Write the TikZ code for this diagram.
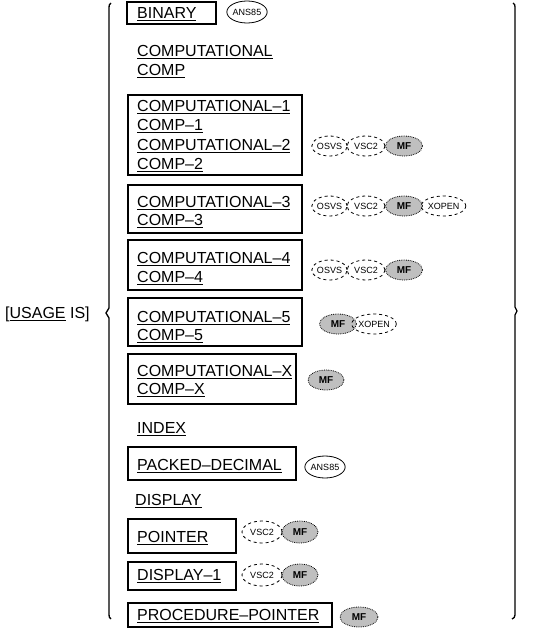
\documentclass[tikz,border=0pt]{standalone}
\usepackage{fontspec}
\setmainfont{Liberation Sans}
\usetikzlibrary{shapes.geometric}
\newcommand{\ulw}[1]{\setbox0\hbox{#1}\rlap{\rule[-3.2pt]{\wd0}{1.1pt}}\box0\relax}
\begin{document}
\begin{tikzpicture}[x=1pt,y=-1pt,
  word/.style={anchor=base west, inner sep=0pt, font=\fontsize{16}{19}\selectfont},
  boxline/.style={draw, line width=1.4pt},
  brace/.style={draw, line width=1.3pt},
  tag/.style={ellipse, draw, dashed, line width=0.8pt, minimum width=36pt, minimum height=20pt, inner sep=0pt, font=\fontsize{9}{10}\selectfont},
  soltag/.style={tag, solid},
  mftag/.style={ellipse, draw, densely dotted, line width=0.8pt, fill=black!25, minimum width=37pt, minimum height=20pt, inner sep=0pt, font=\bfseries\fontsize{10}{11}\selectfont}]
\useasboundingbox[fill=white] (0,0) rectangle (543,629);

% braces
\draw[brace] (111,3) to[out=200,in=90] (109,8) -- (109,308) -- (106,313) -- (109,318) -- (109,614) to[out=-90,in=160] (111,619);
\draw[brace] (513,3) to[out=-20,in=90] (515,7) -- (515,307) -- (517,311) -- (515,315) -- (515,615) to[out=-90,in=20] (512,619);

% left label
\node[word] (usage) at (5,318) {[\ulw{USAGE} IS]};

% BINARY
\draw[boxline] (127,2) rectangle (216,24);
\node[word] (binary) at (137,18) {\ulw{BINARY}};
\node[soltag, minimum width=39pt, minimum height=22pt] (a1) at (247,12) {ANS85};

% COMPUTATIONAL
\node[word] (comp) at (137,56) {\ulw{COMPUTATIONAL}};
\node[word] (compa) at (137,75) {\ulw{COMP}};

% box 2
\draw[boxline] (128,95) rectangle (302,175);
\node[word] (c1) at (137,111) {\ulw{COMPUTATIONAL–1}};
\node[word] (c1a) at (137,130) {\ulw{COMP–1}};
\node[word] (c2) at (137,150) {\ulw{COMPUTATIONAL–2}};
\node[word] (c2a) at (137,169) {\ulw{COMP–2}};
\node[tag, minimum width=35pt] (o2) at (329.5,146) {OSVS};
\node[tag, minimum width=38pt] (v2) at (366,146) {VSC2};
\node[mftag] (m2) at (404,146) {MF};

% box 3
\draw[boxline] (128,185) rectangle (302,233);
\node[word] (c3) at (137,207) {\ulw{COMPUTATIONAL–3}};
\node[word] (c3a) at (137,225) {\ulw{COMP–3}};
\node[tag, minimum width=35pt] (o3) at (329.5,206) {OSVS};
\node[tag, minimum width=38pt] (v3) at (366,206) {VSC2};
\node[mftag] (m3) at (404,206) {MF};
\node[tag, minimum width=39pt] (x3) at (443.5,206) {XOPEN};

% box 4
\draw[boxline] (128,240) rectangle (302,290);
\node[word] (c4) at (137,263) {\ulw{COMPUTATIONAL–4}};
\node[word] (c4a) at (137,282) {\ulw{COMP–4}};
\node[tag, minimum width=35pt] (o4) at (329.5,270) {OSVS};
\node[tag, minimum width=38pt] (v4) at (366,270) {VSC2};
\node[mftag] (m4) at (404,270) {MF};

% box 5
\draw[boxline] (128,298) rectangle (302,346);
\node[word] (c5) at (137,322) {\ulw{COMPUTATIONAL–5}};
\node[word] (c5a) at (137,340) {\ulw{COMP–5}};
\node[mftag] (m5) at (338,324) {MF};
\node[tag, minimum width=34pt] (x5) at (374,324) {XOPEN};

% box X
\draw[boxline] (128,354) rectangle (296,404);
\node[word] (cx) at (137,376) {\ulw{COMPUTATIONAL–X}};
\node[word] (cxa) at (137,394) {\ulw{COMP–X}};
\node[mftag, minimum width=36pt] (mx) at (326,380) {MF};

% INDEX
\node[word] (index) at (137,433) {\ulw{INDEX}};

% PACKED-DECIMAL
\draw[boxline] (128,447) rectangle (296,480);
\node[word] (packed) at (137,470) {\ulw{PACKED–DECIMAL}};
\node[soltag, minimum width=37pt, minimum height=22pt] (a2) at (325,467) {ANS85};

% DISPLAY
\node[word] (display) at (135,505) {\ulw{DISPLAY}};

% POINTER
\draw[boxline] (128,519) rectangle (236,553);
\node[word] (pointer) at (137,542) {\ulw{POINTER}};
\node[tag, minimum width=40pt, minimum height=22pt] (vp) at (262,532) {VSC2};
\node[mftag, minimum width=36pt, minimum height=22pt] (mp) at (300,532) {MF};

% DISPLAY-1
\draw[boxline] (128,562) rectangle (236,590);
\node[word] (display1) at (137,580) {\ulw{DISPLAY–1}};
\node[tag, minimum width=40pt, minimum height=22pt] (vd) at (262,575) {VSC2};
\node[mftag, minimum width=36pt, minimum height=22pt] (md) at (300,575) {MF};

% PROCEDURE-POINTER
\draw[boxline] (128,603) rectangle (332,627);
\node[word] (proc) at (137,620) {\ulw{PROCEDURE–POINTER}};
\node[mftag, minimum width=38pt] (mpp) at (359,617) {MF};
\end{tikzpicture}
\end{document}
